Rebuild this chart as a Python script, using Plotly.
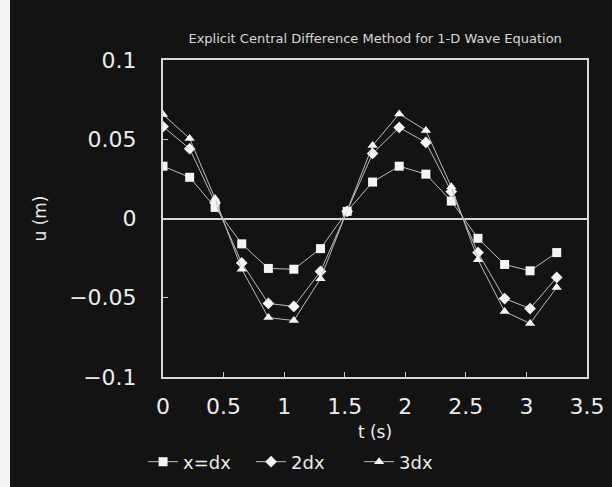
import plotly.graph_objects as go

# time samples (s)
t = [0, 0.22, 0.43, 0.65, 0.87, 1.08, 1.30, 1.52, 1.73, 1.95, 2.17, 2.38, 2.60, 2.82, 3.03, 3.25]

# displacement u (m) at three positions
u_dx = [0.033, 0.026, 0.007, -0.016, -0.0315, -0.032, -0.019, 0.0045, 0.023, 0.033, 0.028, 0.011, -0.0125, -0.029, -0.033, -0.0215]
u_2dx = [0.058, 0.044, 0.010, -0.028, -0.0536, -0.0555, -0.0334, 0.0045, 0.041, 0.0574, 0.048, 0.017, -0.0215, -0.0505, -0.0568, -0.0372]
u_3dx = [0.0656, 0.0505, 0.0126, -0.032, -0.0625, -0.0644, -0.038, 0.0045, 0.046, 0.066, 0.0555, 0.020, -0.026, -0.0587, -0.0662, -0.0435]

series_names = ["x=dx", "2dx", "3dx"]
series_vals = [u_dx, u_2dx, u_3dx]
symbols = ["square", "diamond", "triangle-up"]

x_ticks = [0, 0.5, 1, 1.5, 2, 2.5, 3, 3.5]
y_ticks = [-0.1, -0.05, 0, 0.05, 0.1]
y_tick_text = ["\u22120.1", "\u22120.05", "0", "0.05", "0.1"]

title_text = "Explicit Central Difference Method for 1-D Wave Equation"

BG = "#141313"
FG = "#ececec"
FONT = "DejaVu Sans"

fig = go.Figure()
for name, vals, sym in zip(series_names, series_vals, symbols):
    fig.add_trace(go.Scatter(
        x=t, y=vals, name=name, mode="lines+markers",
        line=dict(color="#bdbdbd", width=1),
        marker=dict(symbol=sym, size=9, color="#f4f4f4", line=dict(width=0)),
    ))

fig.update_layout(
    width=612, height=487,
    margin=dict(l=163, r=25, t=60, b=110, autoexpand=False),
    paper_bgcolor=BG, plot_bgcolor=BG,
    font=dict(family=FONT, color=FG),
    title=dict(text=title_text, x=0.613, xanchor="center", y=1 - 38 / 487, yanchor="middle",
               font=dict(size=13, color="#d8d8d8"), automargin=False),
    showlegend=True,
    legend=dict(orientation="h", x=-0.047, xanchor="left", y=-0.268, yanchor="middle",
                font=dict(size=18, color=FG), bgcolor="rgba(0,0,0,0)",
                itemwidth=30, entrywidth=63, entrywidthmode="pixels"),
    xaxis=dict(range=[0, 3.5], tickvals=x_ticks, ticks="inside", ticklen=5, tickcolor="#cfcfcf",
               showgrid=False, zeroline=False, showline=True, linecolor="#d8d8d8", linewidth=2,
               mirror=True, tickfont=dict(size=22, color=FG), ticklabelstandoff=9, automargin=False,
               title=dict(text="t (s)", font=dict(size=17, color=FG), standoff=8)),
    yaxis=dict(range=[-0.1, 0.1], tickvals=y_ticks, ticktext=y_tick_text, ticks="inside", ticklen=5,
               tickcolor="#cfcfcf", showgrid=False, zeroline=True, zerolinecolor="#d8d8d8", zerolinewidth=2,
               showline=True, linecolor="#d8d8d8", linewidth=2, mirror=True, automargin=False,
               tickfont=dict(size=22, color=FG), ticklabelstandoff=20,
               title=dict(text="u (m)", font=dict(size=17, color=FG), standoff=18)),
)

# white scanner margin at the left edge
fig.add_shape(type="rect", xref="paper", yref="paper", x0=-163 / 424, x1=-153 / 424, y0=-110 / 317, y1=1 + 60 / 317,
              fillcolor="#f2f2f2", line=dict(width=0), layer="below")

fig.write_html("out.html", config={"displayModeBar": False},
               post_script="document.body.style.margin='0';document.body.style.background='#141313';")
